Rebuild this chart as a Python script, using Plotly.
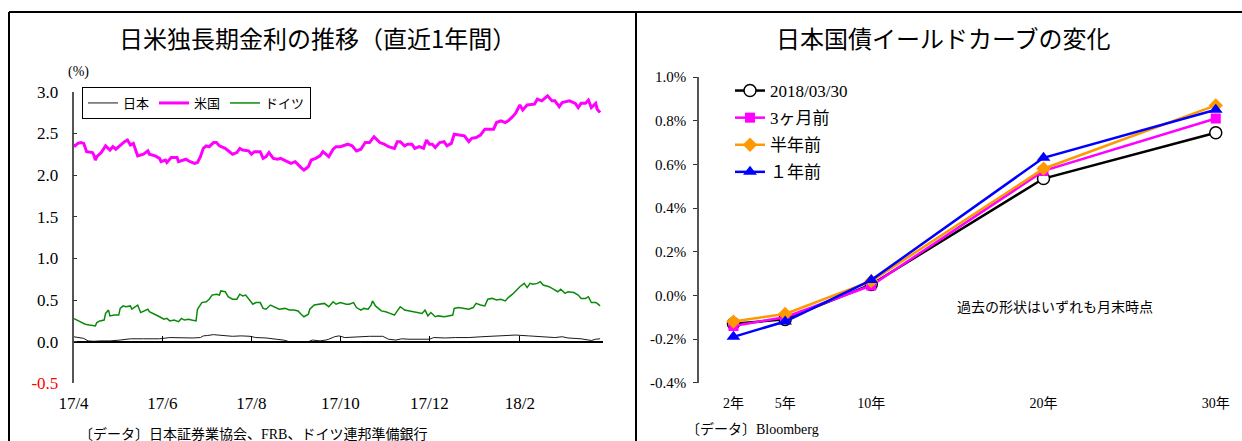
import pandas as pd
import plotly.graph_objects as go

W, H = 1242, 441

# ---------------- Left chart data (days since 2017-04-01, yield %) ----------------
START = "2017-04-01"
END = "2018-03-30"

jp_days = [0, 3, 7, 10, 14, 18, 25, 32, 39, 48, 54, 59, 66, 73, 82, 87, 89, 92, 96, 99,
           104, 109, 115, 121, 125, 132, 139, 144, 148, 153, 157, 159, 164, 169, 173,
           175, 179, 182, 186, 194, 203, 212, 216, 221, 225, 230, 237, 244, 247, 255,
           262, 271, 280, 289, 296, 303, 312, 321, 330, 335, 339, 348, 355, 358, 361]
jp_vals = [0.06, 0.05, 0.04, 0.01, 0.005, 0.01, 0.01, 0.02, 0.035, 0.035, 0.035, 0.035, 0.05, 0.045,
           0.045, 0.05, 0.07, 0.075, 0.085, 0.08, 0.07, 0.065, 0.07, 0.065, 0.05, 0.045, 0.03, 0.02,
           0.0, -0.01, 0.0, -0.01, 0.02, 0.01, 0.02,
           0.03, 0.06, 0.07, 0.05, 0.06, 0.065, 0.065, 0.03, 0.02, 0.035, 0.03, 0.03, 0.03, 0.05,
           0.045, 0.05, 0.05, 0.06, 0.07, 0.07, 0.08, 0.07, 0.06, 0.05, 0.06, 0.045, 0.035, 0.015,
           0.03, 0.035]

us_days = [0, 1, 3, 5, 7, 9, 13, 14, 15, 16, 19, 22, 25, 27, 29, 32, 35, 37, 39, 41,
           44, 48, 51, 52, 56, 59, 60, 63, 64, 67, 71, 72, 75, 77, 80, 83, 85, 87, 89, 91,
           93, 96, 98, 100, 104, 107, 109, 112, 114, 116, 120, 122, 124, 128, 130, 132, 134, 137, 140, 142,
           146, 149, 152, 154, 156, 158, 161, 163, 166, 169, 171, 173,
           175, 178, 180, 183, 186, 188, 191, 194, 197, 200, 203, 206, 210, 213, 216, 220, 222, 224, 227, 229,
           232, 234, 237, 240, 242, 244, 246, 248, 251, 254, 256, 259, 261, 265, 268, 271, 273, 276, 279, 282,
           285, 288, 290, 293, 296, 298, 301, 303, 306, 308, 311, 314, 316, 318, 321, 325, 328, 330, 333, 335,
           338, 340, 344, 346, 348, 351, 353, 355, 358, 359, 361]
us_vals = [2.36, 2.35, 2.38, 2.39, 2.38, 2.28, 2.27, 2.24, 2.18, 2.22, 2.27, 2.35, 2.30, 2.34, 2.31, 2.36, 2.40, 2.42, 2.36, 2.38,
           2.23, 2.25, 2.29, 2.25, 2.23, 2.20, 2.16, 2.18, 2.15, 2.21, 2.21, 2.16, 2.18, 2.19, 2.16, 2.14, 2.15, 2.22, 2.32, 2.35,
           2.34, 2.39, 2.39, 2.35, 2.32, 2.28, 2.25, 2.27, 2.32, 2.30, 2.29, 2.25, 2.28, 2.28, 2.20, 2.22, 2.27, 2.20, 2.19, 2.20,
           2.16, 2.14, 2.16, 2.12, 2.09, 2.06, 2.10, 2.18, 2.20, 2.23, 2.28, 2.25,
           2.22, 2.31, 2.34, 2.34, 2.36, 2.37, 2.35, 2.29, 2.31, 2.39, 2.39, 2.46, 2.39, 2.37, 2.34, 2.32, 2.40, 2.40, 2.35, 2.37,
           2.37, 2.32, 2.34, 2.32, 2.42, 2.37, 2.37, 2.33, 2.39, 2.40, 2.35, 2.38, 2.49, 2.48, 2.47, 2.40, 2.44, 2.45, 2.48, 2.55,
           2.55, 2.55, 2.63, 2.65, 2.63, 2.65, 2.70, 2.74, 2.84, 2.78, 2.84, 2.85, 2.85, 2.91, 2.89, 2.95, 2.89, 2.89, 2.82, 2.87,
           2.88, 2.89, 2.86, 2.81, 2.86, 2.86, 2.90, 2.81, 2.86, 2.79, 2.75]

de_days = [0, 2, 5, 8, 11, 15, 16, 18, 21, 22, 24, 25, 28, 31, 32, 34, 36, 39, 40, 42,
           44, 46, 48, 51, 52, 56, 59, 62, 64, 66, 69, 72, 74, 76, 79, 81, 84, 85, 88, 91,
           93, 95, 98, 100, 101, 104, 106, 109, 112, 114, 116, 118, 121, 123, 125, 128, 130, 132, 135, 137,
           141, 145, 148, 151, 154, 156, 158, 161, 162, 165, 169, 172,
           175, 178, 180, 183, 187, 189, 192, 194, 197, 199, 202, 204, 205, 207, 211, 214, 217, 220, 222, 224,
           227, 230, 233, 237, 239, 241, 243, 245, 248, 250, 254, 257, 260, 261, 264, 268, 271, 274, 276, 279,
           282, 284, 287, 290, 293, 296, 298, 301, 303, 306, 309, 311, 313, 315, 318, 320, 322, 326, 329, 332,
           334, 337, 339, 343, 346, 348, 351, 353, 355, 358, 359, 361]
de_vals = [0.28, 0.26, 0.23, 0.21, 0.20, 0.19, 0.23, 0.25, 0.26, 0.34, 0.38, 0.31, 0.32, 0.32, 0.40, 0.43, 0.42, 0.43, 0.39, 0.42,
           0.44, 0.35, 0.37, 0.39, 0.36, 0.33, 0.30, 0.27, 0.28, 0.25, 0.26, 0.24, 0.28, 0.26, 0.27, 0.26, 0.25, 0.39, 0.47, 0.48,
           0.51, 0.56, 0.57, 0.56, 0.61, 0.60, 0.54, 0.51, 0.51, 0.57, 0.55, 0.56, 0.50, 0.45, 0.47, 0.47, 0.40, 0.39, 0.44, 0.42,
           0.39, 0.40, 0.38, 0.38, 0.37, 0.33, 0.30, 0.33, 0.39, 0.44, 0.45, 0.46,
           0.42, 0.48, 0.45, 0.47, 0.45, 0.45, 0.47, 0.41, 0.38, 0.40, 0.39, 0.44, 0.49, 0.43, 0.37, 0.36, 0.34, 0.32, 0.37, 0.42,
           0.38, 0.37, 0.36, 0.35, 0.34, 0.38, 0.31, 0.35, 0.30, 0.31, 0.30, 0.31, 0.32, 0.40, 0.41, 0.40, 0.39, 0.41, 0.46, 0.44,
           0.43, 0.51, 0.52, 0.50, 0.51, 0.49, 0.53, 0.57, 0.61, 0.66, 0.70, 0.65, 0.70, 0.69, 0.70, 0.72, 0.68, 0.66, 0.63, 0.60,
           0.63, 0.58, 0.60, 0.59, 0.56, 0.52, 0.52, 0.54, 0.47, 0.47, 0.46, 0.43]

left_tick_dates = ["2017-04-01", "2017-06-01", "2017-08-01", "2017-10-01", "2017-12-01", "2018-02-01"]
left_tick_text = ["17/4", "17/6", "17/8", "17/10", "17/12", "18/2"]
left_y_vals = [-0.5, 0.0, 0.5, 1.0, 1.5, 2.0, 2.5, 3.0]
left_y_text = ["<span style='color:#ff0000'>-0.5</span>", "0.0", "0.5", "1.0", "1.5", "2.0", "2.5", "3.0"]

# ---------------- Right chart data ----------------
maturities = [2, 5, 10, 20, 30]
maturity_labels = ["2年", "5年", "10年", "20年", "30年"]
curve_latest = [-0.13, -0.11, 0.05, 0.535, 0.745]
curve_3m = [-0.14, -0.10, 0.045, 0.57, 0.81]
curve_6m = [-0.12, -0.085, 0.065, 0.58, 0.87]
curve_1y = [-0.19, -0.12, 0.07, 0.63, 0.85]
right_y_vals = [-0.4, -0.2, 0.0, 0.2, 0.4, 0.6, 0.8, 1.0]
right_y_text = ["-0.4%", "-0.2%", "0.0%", "0.2%", "0.4%", "0.6%", "0.8%", "1.0%"]

# ---------------- helpers ----------------
def px(x):
    return x / W


def py(y):
    return 1 - y / H


start = pd.Timestamp(START)


def to_dates(days):
    return [start + pd.Timedelta(days=d) for d in days]


SERIF = "Liberation Serif, 'Noto Sans CJK JP', serif"
SANS = "'Noto Sans CJK JP', sans-serif"

fig = go.Figure()

fig.add_trace(go.Scatter(x=to_dates(jp_days), y=jp_vals, name="日本", mode="lines",
                         line=dict(color="#1a1a1a", width=1), xaxis="x", yaxis="y", legend="legend"))
fig.add_trace(go.Scatter(x=to_dates(us_days), y=us_vals, name="米国", mode="lines",
                         line=dict(color="#ff00ff", width=3), xaxis="x", yaxis="y", legend="legend"))
fig.add_trace(go.Scatter(x=to_dates(de_days), y=de_vals, name="ドイツ", mode="lines",
                         line=dict(color="#0a8a0a", width=1.5), xaxis="x", yaxis="y", legend="legend"))
# empty trace so the zero-line axis is drawn
fig.add_trace(go.Scatter(x=[], y=[], xaxis="x3", yaxis="y", showlegend=False, hoverinfo="skip"))

fig.add_trace(go.Scatter(x=maturities, y=curve_latest, name="2018/03/30", mode="lines+markers",
                         line=dict(color="#000000", width=2.5), legendgroup="a",
                         marker=dict(symbol="circle", size=12, color="#ffffff", line=dict(color="#000000", width=1.5)),
                         xaxis="x2", yaxis="y2", legend="legend2"))
fig.add_trace(go.Scatter(x=maturities, y=curve_3m, name="3ヶ月前", mode="lines+markers",
                         line=dict(color="#ff00ff", width=2.5), legendgroup="b",
                         marker=dict(symbol="square", size=10, color="#ff00ff"),
                         xaxis="x2", yaxis="y2", legend="legend2"))
fig.add_trace(go.Scatter(x=maturities, y=curve_6m, name="半年前", mode="lines+markers",
                         line=dict(color="#ff9900", width=2.5), legendgroup="c",
                         marker=dict(symbol="diamond", size=11, color="#ff9900"),
                         xaxis="x2", yaxis="y2", legend="legend2"))
fig.add_trace(go.Scatter(x=maturities, y=curve_1y, name="１年前", mode="lines+markers",
                         line=dict(color="#0000ff", width=2.5), legendgroup="d",
                         marker=dict(symbol="triangle-up", size=12, color="#0000ff"),
                         xaxis="x2", yaxis="y2", legend="legend2"))

left_dom_x = [px(73.5), px(603)]
left_dom_y = [py(383.4), py(91.7)]
zero_pos = left_dom_y[0] + (0 - (-0.5)) / 3.5 * (left_dom_y[1] - left_dom_y[0])

fig.update_layout(
    width=W, height=H,
    margin=dict(l=0, r=0, t=0, b=0),
    paper_bgcolor="#ffffff", plot_bgcolor="rgba(0,0,0,0)",
    showlegend=True,
    xaxis=dict(domain=left_dom_x, range=[START, END], anchor="y", type="date",
               showline=False, showgrid=False, zeroline=False, ticks="",
               tickvals=left_tick_dates, ticktext=left_tick_text, automargin=False,
               tickfont=dict(family=SERIF, size=17, color="#000000"), ticklabelstandoff=8),
    xaxis3=dict(domain=left_dom_x, range=[START, END], type="date", overlaying="x",
                anchor="free", position=zero_pos, automargin=False,
                showline=True, linecolor="#000000", linewidth=1.5,
                ticks="inside", ticklen=5, tickwidth=1.2, tickcolor="#000000",
                tickvals=left_tick_dates, showticklabels=False, showgrid=False, zeroline=False),
    yaxis=dict(domain=left_dom_y, range=[-0.5, 3.0], anchor="x", automargin=False,
               showline=True, linecolor="#555555", linewidth=1.5,
               ticks="inside", ticklen=4, tickcolor="#333333",
               tickvals=left_y_vals, ticktext=left_y_text,
               showgrid=False, zeroline=False,
               tickfont=dict(family=SERIF, size=17, color="#000000"), ticklabelstandoff=10),
    xaxis2=dict(domain=[px(699), px(1233)], range=[0, 31], anchor="y2", automargin=False,
                showline=False, showgrid=False, zeroline=False, ticks="",
                tickvals=maturities, ticktext=maturity_labels,
                tickfont=dict(family=SERIF, size=14, color="#000000"), ticklabelstandoff=10),
    yaxis2=dict(domain=[py(382.7), py(77)], range=[-0.4, 1.0], anchor="x2", automargin=False,
                showline=True, linecolor="#555555", linewidth=1.5,
                ticks="outside", ticklen=4, tickcolor="#333333",
                tickvals=right_y_vals, ticktext=right_y_text,
                showgrid=False, zeroline=False,
                tickfont=dict(family=SERIF, size=15, color="#000000"), ticklabelstandoff=4),
    legend=dict(orientation="h", x=px(82), y=py(87), xanchor="left", yanchor="top",
                bordercolor="#000000", borderwidth=1, bgcolor="#ffffff",
                font=dict(family=SANS, size=13, color="#000000"),
                itemwidth=30, tracegroupgap=0),
    legend2=dict(orientation="v", x=px(730), y=py(73), xanchor="left", yanchor="top",
                 borderwidth=0, bgcolor="rgba(0,0,0,0)",
                 font=dict(family=SERIF, size=17, color="#000000"),
                 itemwidth=30, tracegroupgap=2),
)

annotations = [
    dict(text="日米独長期金利の推移（直近1年間）", x=px(317), y=py(37), font=dict(family=SANS, size=24, color="#000000")),
    dict(text="日本国債イールドカーブの変化", x=px(943), y=py(37), font=dict(family=SANS, size=24, color="#000000")),
    dict(text="(%)", x=px(78), y=py(72), font=dict(family=SERIF, size=14, color="#000000")),
    dict(text="〔データ〕日本証券業協会、FRB、ドイツ連邦準備銀行", x=px(77), y=py(434), xanchor="left",
         font=dict(family=SERIF, size=14, color="#000000")),
    dict(text="〔データ〕Bloomberg", x=px(684), y=py(429), xanchor="left",
         font=dict(family=SERIF, size=14, color="#000000")),
    dict(text="過去の形状はいずれも月末時点", x=px(955), y=py(306), xanchor="left",
         font=dict(family=SANS, size=14, color="#000000")),
]
for a in annotations:
    a.setdefault("xanchor", "center")
    a.update(xref="paper", yref="paper", yanchor="middle", showarrow=False)
fig.update_layout(annotations=annotations)

border = dict(color="#000000", width=2)
fig.update_layout(shapes=[
    dict(type="line", xref="paper", yref="paper", x0=px(9), x1=1, y0=py(12), y1=py(12), line=border),
    dict(type="line", xref="paper", yref="paper", x0=px(9), x1=px(9), y0=py(12), y1=0, line=border),
    dict(type="line", xref="paper", yref="paper", x0=px(636), x1=px(636), y0=py(12), y1=0, line=border),
])

fig.write_html("out.html")
